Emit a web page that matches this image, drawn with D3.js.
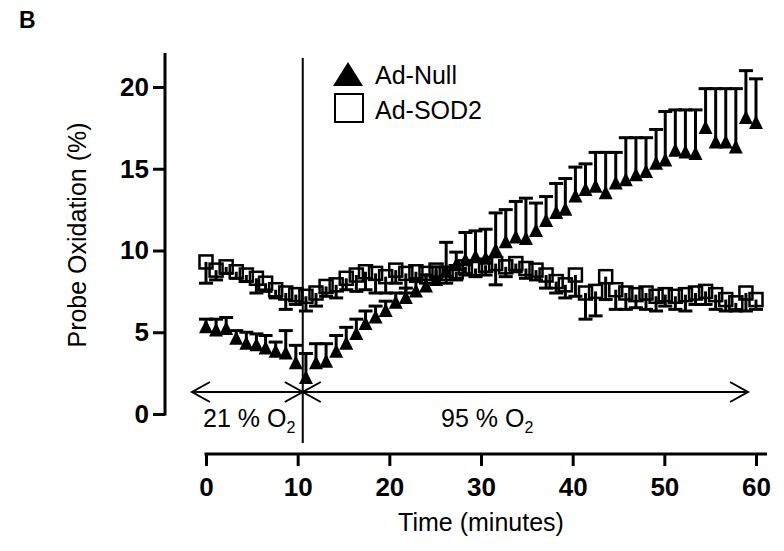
<!DOCTYPE html>
<html><head><meta charset="utf-8">
<script src="https://cdn.jsdelivr.net/npm/d3@7"></script>
<style>
body{margin:0;background:#fff;}
svg text{font-family:"Liberation Sans",Arial,sans-serif;fill:#000;}
</style></head>
<body><svg id="c" width="784" height="551"></svg>
<script>
const times = [0,1.1,2.2,3.3,4.4,5.5,6.5,7.6,8.7,9.8,10.9,12.0,13.1,14.2,15.3,16.4,17.4,18.5,19.6,20.7,21.8,22.9,24.0,25.1,26.2,27.3,28.3,29.4,30.5,31.6,32.7,33.8,34.9,36.0,37.1,38.2,39.2,40.3,41.4,42.5,43.6,44.7,45.8,46.9,48.0,49.1,50.1,51.2,52.3,53.4,54.5,55.6,56.7,57.8,58.9,60.0];
const nullMean = [5.3,5.1,5.2,4.6,4.3,4.2,4.0,3.8,3.7,3.1,2.2,3.1,3.2,3.8,4.3,4.9,5.5,5.9,6.3,6.8,7.1,7.5,7.8,8.2,8.7,9.1,9.4,9.6,9.5,10.0,10.5,10.8,10.7,11.2,11.8,12.3,12.5,13.3,13.7,13.9,13.5,14.1,14.3,14.6,14.8,15.3,15.5,16.1,16.0,15.9,17.5,16.6,16.6,16.3,18.1,17.8];
const nullErr = [0.5,0.7,0.7,0.5,0.7,0.7,0.8,0.6,1.4,1.1,1.5,1.2,1.1,1.0,1.0,0.9,0.8,0.7,0.6,0.6,0.6,0.6,0.7,0.8,1.8,0.8,1.7,1.6,1.8,2.3,2.0,2.2,2.5,1.7,1.5,1.8,1.9,1.8,1.6,2.1,2.5,1.9,2.6,2.3,2.1,2.1,3.0,2.5,2.6,2.7,2.4,3.3,3.3,3.6,2.9,2.7];
const sodMean = [9.3,8.8,9.0,8.7,8.5,8.3,8.0,7.6,7.4,7.3,7.2,7.4,7.8,7.9,8.3,8.5,8.7,8.6,8.4,8.8,8.6,8.7,8.6,8.8,8.6,8.7,9.0,8.9,9.1,9.2,9.0,9.2,8.9,8.8,8.5,8.1,7.9,8.5,7.4,7.5,8.4,7.6,7.4,7.3,7.4,7.2,7.3,7.2,7.3,7.4,7.5,7.3,7.0,6.8,7.4,7.0];
const sodErr = [1.3,0.6,0.4,0.4,0.4,0.9,0.5,0.5,1.0,0.6,0.9,0.8,0.6,0.8,0.7,1.0,1.1,1.2,1.0,0.8,1.2,0.5,0.6,0.5,0.6,0.5,0.5,0.5,0.6,1.3,0.6,0.5,0.6,0.6,0.8,0.7,0.8,1.3,1.6,1.5,1.4,1.2,1.0,0.8,1.0,0.9,0.7,0.8,1.0,0.7,0.8,0.9,0.7,0.5,1.1,0.6];
const xTicks = [0,10,20,30,40,50,60];
const yTicks = [0,5,10,15,20];
const seriesNames = ["Ad-Null","Ad-SOD2"];
const switchTime = 10.5;

const svg = d3.select("#c");
const x = d3.scaleLinear().domain([0,60]).range([206,756]);
const y = d3.scaleLinear().domain([0,20]).range([414,87]);

// panel letter
svg.append("text").attr("x",19).attr("y",28).attr("font-size",23).attr("font-weight","bold").text("B");

// y axis
const ya = svg.append("g").attr("transform","translate(165,0)")
  .call(d3.axisLeft(y).tickValues(yTicks).tickSize(12).tickPadding(4).tickFormat(d3.format("d")));
ya.select(".domain").remove();
ya.append("line").attr("x1",0).attr("x2",0).attr("y1",53).attr("y2",y(0)+1.5).attr("stroke","#000").attr("stroke-width",3);
ya.selectAll(".tick line").attr("stroke","#000").attr("stroke-width",3);
ya.selectAll(".tick text").attr("font-size",26).attr("font-weight","bold").attr("fill","#000")
  .style("font-family","'Liberation Sans',Arial,sans-serif");

// x axis
const xa = svg.append("g").attr("transform","translate(0,454)")
  .call(d3.axisBottom(x).tickValues(xTicks).tickSize(12).tickPadding(12).tickFormat(d3.format("d")));
xa.select(".domain").remove();
xa.append("line").attr("x1",x(0)-1.5).attr("x2",767).attr("y1",0).attr("y2",0).attr("stroke","#000").attr("stroke-width",3);
xa.selectAll(".tick line").attr("stroke","#000").attr("stroke-width",3);
xa.selectAll(".tick text").attr("font-size",26).attr("font-weight","bold").attr("fill","#000")
  .style("font-family","'Liberation Sans',Arial,sans-serif");

// axis titles
svg.append("text").attr("transform","translate(86,235) rotate(-90)").attr("text-anchor","middle")
  .attr("font-size",25).text("Probe Oxidation (%)");
svg.append("text").attr("x",481).attr("y",531).attr("text-anchor","middle").attr("font-size",25).text("Time (minutes)");

// vertical switch line
svg.append("line").attr("x1",x(switchTime)+0.5).attr("x2",x(switchTime)+0.5).attr("y1",58).attr("y2",443)
  .attr("stroke","#000").attr("stroke-width",2);

// arrows
const ay = 392;
function dblArrow(x1,x2){
  svg.append("line").attr("x1",x1).attr("x2",x2).attr("y1",ay).attr("y2",ay).attr("stroke","#000").attr("stroke-width",2);
  svg.append("path").attr("d",`M${x1+18},${ay-10}L${x1},${ay}L${x1+18},${ay+10}`).attr("fill","none").attr("stroke","#000").attr("stroke-width",2);
  svg.append("path").attr("d",`M${x2-18},${ay-10}L${x2},${ay}L${x2-18},${ay+10}`).attr("fill","none").attr("stroke","#000").attr("stroke-width",2);
}
dblArrow(192, x(switchTime)+0.5);
dblArrow(x(switchTime)+0.5, 748);

function o2Label(xs, txt){
  const t = svg.append("text").attr("x",xs).attr("y",427).attr("font-size",25);
  t.append("tspan").text(txt+" O");
  t.append("tspan").attr("dy",6).attr("font-size",16).text("2");
}
o2Label(203,"21 %");
o2Label(441,"95 %");

// data
const nullData = times.map((t,i)=>({t, m:nullMean[i], e:nullErr[i]}));
const sodData = times.map((t,i)=>({t, m:sodMean[i], e:sodErr[i]}));
const cap = 7;

// SOD2 error bars (downward)
const gs = svg.append("g");
gs.selectAll("line.bar").data(sodData).join("line")
  .attr("x1",d=>x(d.t)).attr("x2",d=>x(d.t)).attr("y1",d=>y(d.m)).attr("y2",d=>y(d.m-d.e))
  .attr("stroke","#000").attr("stroke-width",3);
gs.selectAll("line.cap").data(sodData).join("line").attr("class","cap")
  .attr("x1",d=>x(d.t)-cap).attr("x2",d=>x(d.t)+cap).attr("y1",d=>y(d.m-d.e)).attr("y2",d=>y(d.m-d.e))
  .attr("stroke","#000").attr("stroke-width",3);
gs.selectAll("rect").data(sodData).join("rect")
  .attr("x",d=>x(d.t)-6.5).attr("y",d=>y(d.m)-6.5).attr("width",13).attr("height",13)
  .attr("fill","none").attr("stroke","#000").attr("stroke-width",2.5);

// Null error bars (upward)
const gn = svg.append("g");
gn.selectAll("line.bar").data(nullData).join("line")
  .attr("x1",d=>x(d.t)).attr("x2",d=>x(d.t)).attr("y1",d=>y(d.m)).attr("y2",d=>y(d.m+d.e))
  .attr("stroke","#000").attr("stroke-width",3);
gn.selectAll("line.cap").data(nullData).join("line").attr("class","cap")
  .attr("x1",d=>x(d.t)-cap).attr("x2",d=>x(d.t)+cap).attr("y1",d=>y(d.m+d.e)).attr("y2",d=>y(d.m+d.e))
  .attr("stroke","#000").attr("stroke-width",3);
gn.selectAll("path").data(nullData).join("path")
  .attr("d",d=>{const cx=x(d.t), cy=y(d.m); return `M${cx},${cy-8}L${cx+7},${cy+6}L${cx-7},${cy+6}Z`;})
  .attr("fill","#000");

// legend
const lg = svg.append("g");
lg.append("path").attr("d","M348,62L363,86L333,86Z").attr("fill","#000");
lg.append("text").attr("x",375).attr("y",84).attr("font-size",25).text(seriesNames[0]);
lg.append("rect").attr("x",335).attr("y",94).attr("width",28).attr("height",28).attr("fill","none").attr("stroke","#000").attr("stroke-width",2);
lg.append("text").attr("x",375).attr("y",119).attr("font-size",25).text(seriesNames[1]);
</script></body></html>
